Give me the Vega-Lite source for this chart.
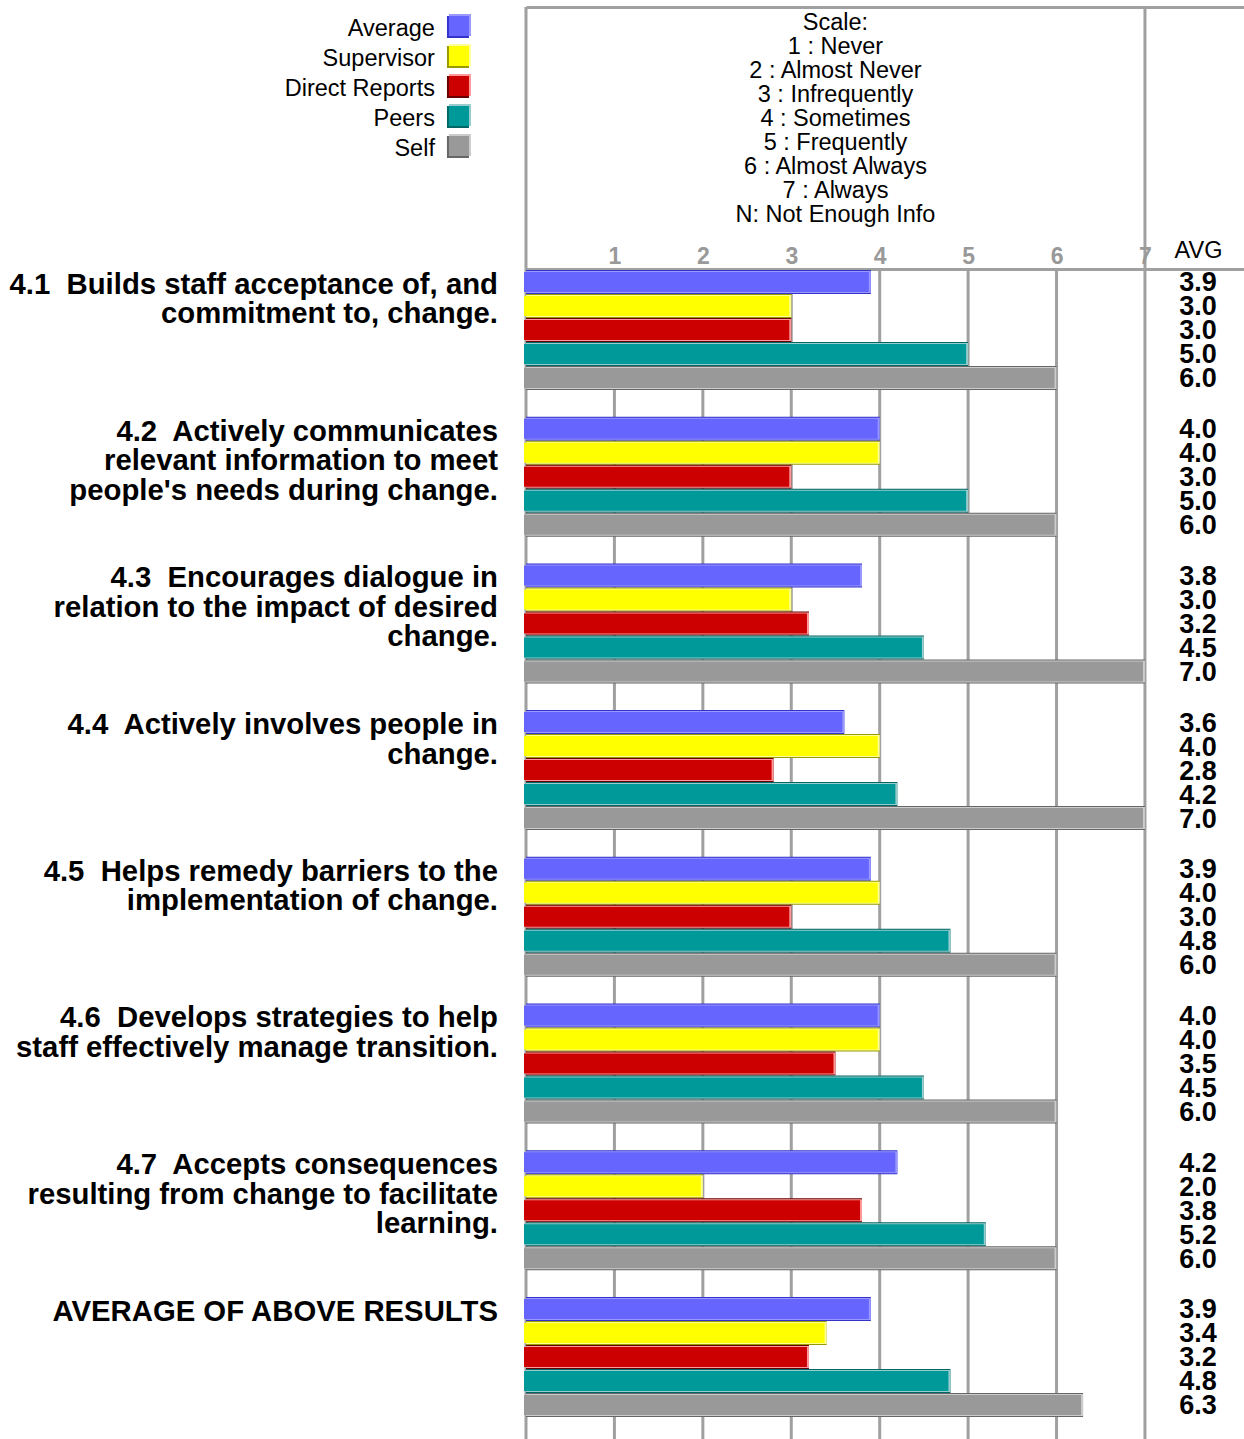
{
  "$schema": "https://vega.github.io/schema/vega-lite/v6.json",
  "padding": {"left": 0, "top": 5, "right": 0, "bottom": 0},
  "background": "white",
  "columns": 2,
  "spacing": 0,
  "bounds": "flush",
  "config": {"view": {"stroke": null}, "font": "Liberation Sans", "axis": {"labelFontSize": 23, "labelFontWeight": "bold", "labelColor": "#999999", "labelFont": "Liberation Sans"}},
  "datasets": {
    "scores": [
      {"group": "4.1", "series": "Average", "value": 3.9},
      {"group": "4.1", "series": "Supervisor", "value": 3.0},
      {"group": "4.1", "series": "Direct Reports", "value": 3.0},
      {"group": "4.1", "series": "Peers", "value": 5.0},
      {"group": "4.1", "series": "Self", "value": 6.0},
      {"group": "4.2", "series": "Average", "value": 4.0},
      {"group": "4.2", "series": "Supervisor", "value": 4.0},
      {"group": "4.2", "series": "Direct Reports", "value": 3.0},
      {"group": "4.2", "series": "Peers", "value": 5.0},
      {"group": "4.2", "series": "Self", "value": 6.0},
      {"group": "4.3", "series": "Average", "value": 3.8},
      {"group": "4.3", "series": "Supervisor", "value": 3.0},
      {"group": "4.3", "series": "Direct Reports", "value": 3.2},
      {"group": "4.3", "series": "Peers", "value": 4.5},
      {"group": "4.3", "series": "Self", "value": 7.0},
      {"group": "4.4", "series": "Average", "value": 3.6},
      {"group": "4.4", "series": "Supervisor", "value": 4.0},
      {"group": "4.4", "series": "Direct Reports", "value": 2.8},
      {"group": "4.4", "series": "Peers", "value": 4.2},
      {"group": "4.4", "series": "Self", "value": 7.0},
      {"group": "4.5", "series": "Average", "value": 3.9},
      {"group": "4.5", "series": "Supervisor", "value": 4.0},
      {"group": "4.5", "series": "Direct Reports", "value": 3.0},
      {"group": "4.5", "series": "Peers", "value": 4.8},
      {"group": "4.5", "series": "Self", "value": 6.0},
      {"group": "4.6", "series": "Average", "value": 4.0},
      {"group": "4.6", "series": "Supervisor", "value": 4.0},
      {"group": "4.6", "series": "Direct Reports", "value": 3.5},
      {"group": "4.6", "series": "Peers", "value": 4.5},
      {"group": "4.6", "series": "Self", "value": 6.0},
      {"group": "4.7", "series": "Average", "value": 4.2},
      {"group": "4.7", "series": "Supervisor", "value": 2.0},
      {"group": "4.7", "series": "Direct Reports", "value": 3.8},
      {"group": "4.7", "series": "Peers", "value": 5.2},
      {"group": "4.7", "series": "Self", "value": 6.0},
      {"group": "AVG", "series": "Average", "value": 3.9},
      {"group": "AVG", "series": "Supervisor", "value": 3.4},
      {"group": "AVG", "series": "Direct Reports", "value": 3.2},
      {"group": "AVG", "series": "Peers", "value": 4.8},
      {"group": "AVG", "series": "Self", "value": 6.3}
    ],
    "items": [
      {"group": "4.1", "label": "4.1\u00a0 Builds staff acceptance of, and\ncommitment to, change."},
      {"group": "4.2", "label": "4.2\u00a0 Actively communicates\nrelevant information to meet\npeople's needs during change."},
      {"group": "4.3", "label": "4.3\u00a0 Encourages dialogue in\nrelation to the impact of desired\nchange."},
      {"group": "4.4", "label": "4.4\u00a0 Actively involves people in\nchange."},
      {"group": "4.5", "label": "4.5\u00a0 Helps remedy barriers to the\nimplementation of change."},
      {"group": "4.6", "label": "4.6\u00a0 Develops strategies to help\nstaff effectively manage transition."},
      {"group": "4.7", "label": "4.7\u00a0 Accepts consequences\nresulting from change to facilitate\nlearning."},
      {"group": "AVG", "label": "AVERAGE OF ABOVE RESULTS"}
    ],
    "series": [
      {"series": "Average"},
      {"series": "Supervisor"},
      {"series": "Direct Reports"},
      {"series": "Peers"},
      {"series": "Self"}
    ],
    "scaleText": [
      {"line": "Scale:"},
      {"line": "1 : Never"},
      {"line": "2 : Almost Never"},
      {"line": "3 : Infrequently"},
      {"line": "4 : Sometimes"},
      {"line": "5 : Frequently"},
      {"line": "6 : Almost Always"},
      {"line": "7 : Always"},
      {"line": "N: Not Enough Info"}
    ]
  },
  "concat": [
    {
      "width": 526,
      "height": 262,
      "data": {"name": "series"},
      "layer": [
        {
          "mark": {"type": "text", "align": "right", "baseline": "middle", "fontSize": 23.5, "color": "#000000"},
          "encoding": {
            "x": {"datum": -1.03, "type": "quantitative", "scale": {"domain": [-5.948, 0], "nice": false, "zero": false}, "axis": null},
            "y": {"field": "series", "type": "nominal", "sort": null, "scale": {"type": "point", "domain": ["Average", "Supervisor", "Direct Reports", "Peers", "Self"], "range": [22, 142], "padding": 0}, "axis": null},
            "text": {"field": "series"}
          }
        },
        {
          "mark": {"type": "point", "shape": "square", "filled": true, "size": 484, "opacity": 1, "xOffset": -1, "yOffset": -2},
          "encoding": {
            "x": {"datum": -0.758, "type": "quantitative", "scale": {"domain": [-5.948, 0], "nice": false, "zero": false}, "axis": null},
            "y": {"field": "series", "type": "nominal", "sort": null, "scale": {"type": "point", "domain": ["Average", "Supervisor", "Direct Reports", "Peers", "Self"], "range": [22, 142], "padding": 0}, "axis": null},
            "color": {"field": "series", "type": "nominal", "scale": {"domain": ["Average", "Supervisor", "Direct Reports", "Peers", "Self"], "range": ["#3333CC", "#999900", "#660000", "#006666", "#666666"]}, "legend": null}
          }
        },
        {
          "mark": {"type": "point", "shape": "square", "filled": true, "size": 484, "opacity": 1, "xOffset": 1, "yOffset": -4},
          "encoding": {
            "x": {"datum": -0.758, "type": "quantitative", "scale": {"domain": [-5.948, 0], "nice": false, "zero": false}, "axis": null},
            "y": {"field": "series", "type": "nominal", "sort": null, "scale": {"type": "point", "domain": ["Average", "Supervisor", "Direct Reports", "Peers", "Self"], "range": [22, 142], "padding": 0}, "axis": null},
            "color": {"field": "series", "type": "nominal", "scale": {"domain": ["Average", "Supervisor", "Direct Reports", "Peers", "Self"], "range": ["#9999FF", "#FFFF99", "#FF9999", "#99CCCC", "#CCCCCC"]}, "legend": null}
          }
        },
        {
          "mark": {"type": "point", "shape": "square", "filled": true, "size": 400, "opacity": 1, "yOffset": -3},
          "encoding": {
            "x": {"datum": -0.758, "type": "quantitative", "scale": {"domain": [-5.948, 0], "nice": false, "zero": false}, "axis": null},
            "y": {"field": "series", "type": "nominal", "sort": null, "scale": {"type": "point", "domain": ["Average", "Supervisor", "Direct Reports", "Peers", "Self"], "range": [22, 142], "padding": 0}, "axis": null},
            "color": {"field": "series", "type": "nominal", "scale": {"domain": ["Average", "Supervisor", "Direct Reports", "Peers", "Self"], "range": ["#6666FF", "#FFFF00", "#CC0000", "#009999", "#999999"]}, "legend": null}
          }
        }
      ],
      "resolve": {"scale": {"color": "independent"}}
    },
    {
      "width": 718,
      "height": 262,
      "layer": [
        {
          "data": {"values": [{"v": 0}, {"v": 7}]},
          "mark": {"type": "rule", "color": "#a0a0a0", "strokeWidth": 3},
          "encoding": {
            "x": {"field": "v", "type": "quantitative", "scale": {"domain": [0, 8.12], "nice": false, "zero": false},
              "axis": {"orient": "top", "domain": true, "domainColor": "#a0a0a0", "domainWidth": 3, "labels": false, "ticks": false, "grid": false, "title": null}}
          }
        },
        {
          "data": {"name": "scaleText"},
          "mark": {"type": "text", "align": "center", "baseline": "middle", "fontSize": 23.5, "color": "#000000"},
          "encoding": {
            "x": {"datum": 3.5, "type": "quantitative", "scale": {"domain": [0, 8.12], "nice": false, "zero": false},
              "axis": {"orient": "top", "domain": true, "domainColor": "#a0a0a0", "domainWidth": 3, "labels": false, "ticks": false, "grid": false, "title": null}},
            "y": {"field": "line", "type": "nominal", "sort": null, "scale": {"type": "point", "domain": ["Scale:", "1 : Never", "2 : Almost Never", "3 : Infrequently", "4 : Sometimes", "5 : Frequently", "6 : Almost Always", "7 : Always", "N: Not Enough Info"], "range": [16, 208], "padding": 0}, "axis": null},
            "text": {"field": "line"}
          }
        }
      ]
    },
    {
      "width": 526,
      "height": 1170,
      "data": {"name": "items"},
      "mark": {"type": "text", "align": "right", "baseline": "alphabetic", "fontSize": 29.3, "fontWeight": "bold", "lineBreak": "\n", "lineHeight": 29.5, "dy": 24, "color": "#000000"},
      "encoding": {
        "x": {"datum": -0.317, "type": "quantitative", "scale": {"domain": [-5.948, 0], "nice": false, "zero": false}, "axis": null},
        "y": {"field": "group", "type": "nominal", "sort": null, "bandPosition": 0, "scale": {"type": "band", "domain": ["4.1", "4.2", "4.3", "4.4", "4.5", "4.6", "4.7", "AVG"], "paddingInner": 0.182, "paddingOuter": 0.0787, "align": 0.043}, "axis": null},
        "text": {"field": "label"}
      }
    },
    {
      "width": 718,
      "height": 1170,
      "layer": [
        {
          "data": {"values": [{"v": 0}, {"v": 1}, {"v": 2}, {"v": 3}, {"v": 4}, {"v": 5}, {"v": 6}, {"v": 7}]},
          "mark": {"type": "rule", "color": "#a0a0a0", "strokeWidth": 3},
          "encoding": {
            "x": {"field": "v", "type": "quantitative", "scale": {"domain": [0, 8.12], "nice": false, "zero": false},
              "axis": {"orient": "top", "values": [1, 2, 3, 4, 5, 6, 7], "format": "d", "labelFont": "Liberation Sans", "labelFontSize": 23, "labelFontWeight": "bold", "labelColor": "#999999", "labelPadding": 1, "labelFlush": false, "labelOverlap": false, "domain": true, "domainColor": "#a0a0a0", "domainWidth": 3, "ticks": false, "grid": false, "title": "AVG", "titleX": 696, "titleY": -12, "titleAlign": "right", "titleAnchor": null, "titleBaseline": "alphabetic", "titleFont": "Liberation Sans", "titleFontSize": 23.5, "titleFontWeight": "normal", "titleColor": "#000000", "titleAngle": 0}}
          }
        },
        {
          "data": {"name": "scores"},
          "encoding": {
            "y": {"field": "group", "type": "nominal", "sort": null, "scale": {"type": "band", "domain": ["4.1", "4.2", "4.3", "4.4", "4.5", "4.6", "4.7", "AVG"], "paddingInner": 0.182, "paddingOuter": 0.0787, "align": 0.043}, "axis": null},
            "yOffset": {"field": "series", "type": "nominal", "sort": null, "scale": {"domain": ["Average", "Supervisor", "Direct Reports", "Peers", "Self"], "paddingInner": 0, "paddingOuter": 0}},
            "x": {"field": "value", "type": "quantitative", "scale": {"domain": [0, 8.12], "nice": false, "zero": false},
              "axis": {"orient": "top", "values": [1, 2, 3, 4, 5, 6, 7], "format": "d", "labelFont": "Liberation Sans", "labelFontSize": 23, "labelFontWeight": "bold", "labelColor": "#999999", "labelPadding": 1, "labelFlush": false, "labelOverlap": false, "domain": true, "domainColor": "#a0a0a0", "domainWidth": 3, "ticks": false, "grid": false, "title": "AVG", "titleX": 696, "titleY": -12, "titleAlign": "right", "titleAnchor": null, "titleBaseline": "alphabetic", "titleFont": "Liberation Sans", "titleFontSize": 23.5, "titleFontWeight": "normal", "titleColor": "#000000", "titleAngle": 0}}
          },
          "layer": [
            {
              "mark": {"type": "bar", "height": 24},
              "encoding": {
                "color": {"field": "series", "type": "nominal", "scale": {"domain": ["Average", "Supervisor", "Direct Reports", "Peers", "Self"], "range": ["#3333CC", "#999900", "#660000", "#006666", "#666666"]}, "legend": null}
              }
            },
            {
              "mark": {"type": "bar", "height": 22, "yOffset": -1, "x2Offset": 2},
              "encoding": {
                "color": {"field": "series", "type": "nominal", "scale": {"domain": ["Average", "Supervisor", "Direct Reports", "Peers", "Self"], "range": ["#9999FF", "#FFFF99", "#FF9999", "#99CCCC", "#CCCCCC"]}, "legend": null}
              }
            },
            {
              "mark": {"type": "bar", "height": 20, "xOffset": -2, "x2Offset": 2},
              "encoding": {
                "color": {"field": "series", "type": "nominal", "scale": {"domain": ["Average", "Supervisor", "Direct Reports", "Peers", "Self"], "range": ["#6666FF", "#FFFF00", "#CC0000", "#009999", "#999999"]}, "legend": null}
              }
            },
            {
              "mark": {"type": "text", "align": "center", "baseline": "middle", "fontSize": 27, "fontWeight": "bold", "color": "#000000", "dy": 1.5},
              "encoding": {
                "x": {"datum": 7.6, "type": "quantitative", "scale": {"domain": [0, 8.12], "nice": false, "zero": false},
                  "axis": {"orient": "top", "values": [1, 2, 3, 4, 5, 6, 7], "format": "d", "labelFont": "Liberation Sans", "labelFontSize": 23, "labelFontWeight": "bold", "labelColor": "#999999", "labelPadding": 1, "labelFlush": false, "labelOverlap": false, "domain": true, "domainColor": "#a0a0a0", "domainWidth": 3, "ticks": false, "grid": false, "title": "AVG", "titleX": 696, "titleY": -12, "titleAlign": "right", "titleAnchor": null, "titleBaseline": "alphabetic", "titleFont": "Liberation Sans", "titleFontSize": 23.5, "titleFontWeight": "normal", "titleColor": "#000000", "titleAngle": 0}},
                "text": {"field": "value", "type": "quantitative", "format": ".1f"}
              }
            }
          ],
          "resolve": {"scale": {"color": "independent"}}
        }
      ]
    }
  ]
}
